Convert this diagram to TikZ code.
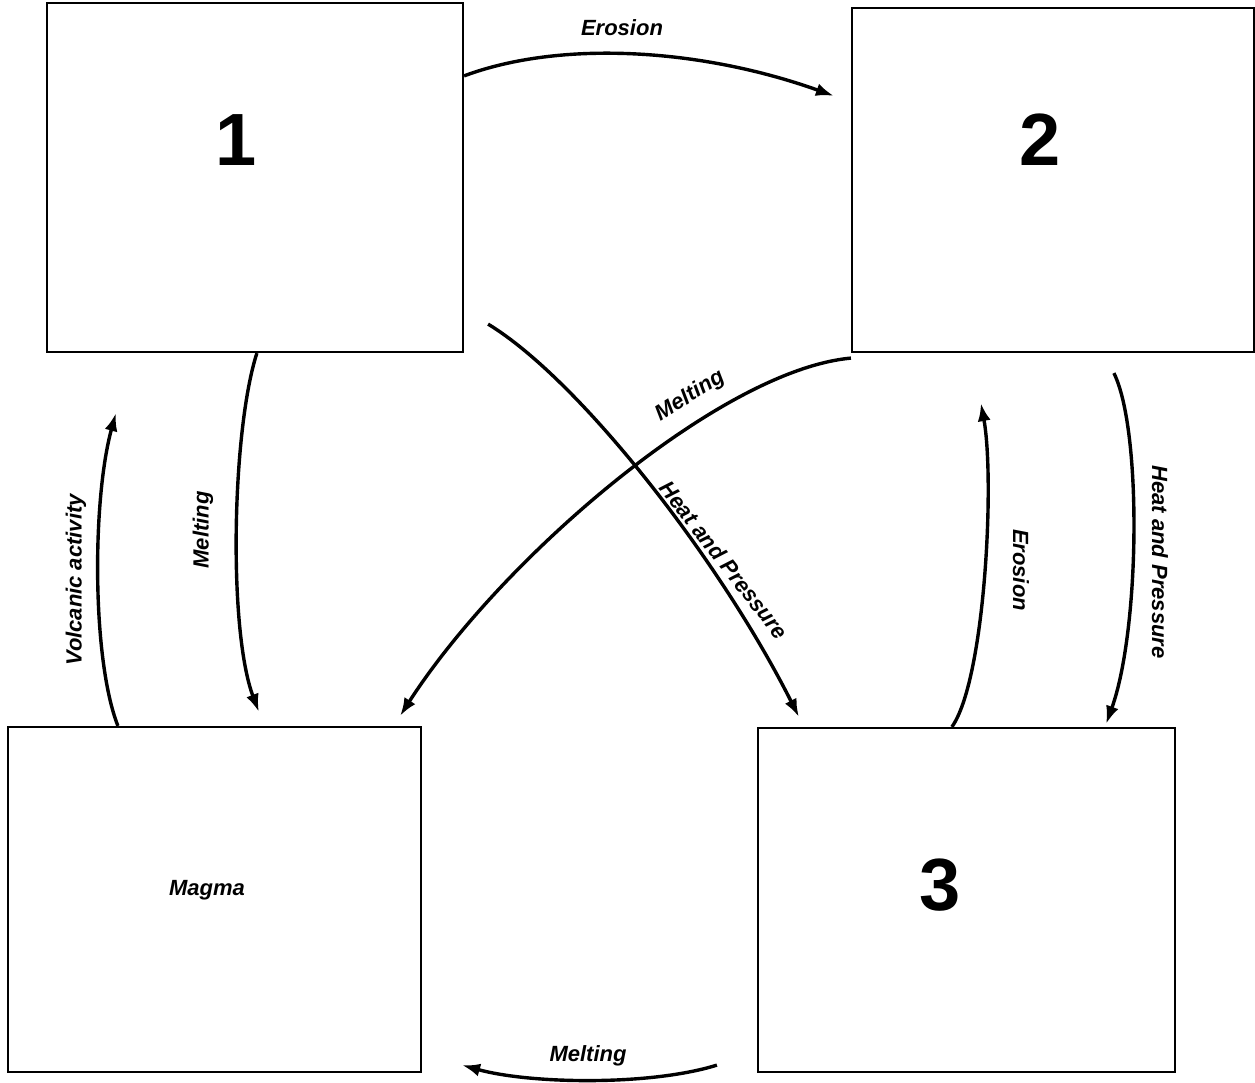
\documentclass[tikz,border=0pt]{standalone}
\usepackage{fontspec}
\setmainfont{Liberation Sans}
\usetikzlibrary{arrows.meta,positioning,calc}

\begin{document}
\begin{tikzpicture}[
  x=1pt,y=-1pt,font=\sffamily,
  stage/.style={draw=black,line width=2.2pt,minimum width=#1,inner sep=0pt},
  digit/.style={font=\bfseries\fontsize{74}{84}\selectfont},
  label/.style={font=\bfseries\itshape\fontsize{22}{26}\selectfont,inner sep=1pt},
  arrow/.style={-{Latex[length=18pt,width=13pt]},line width=3.4pt}
]
\useasboundingbox (0,0) rectangle (1255,1082);

% rock stages
\node[stage=416pt,minimum height=349pt] (one) at (255,177.5) {};
\node[stage=402pt,minimum height=344pt] (two) at (1053,180) {};
\node[stage=413pt,minimum height=345pt] (magma) at (214.5,899.5) {};
\node[stage=417pt,minimum height=344pt] (three) at (966.5,900) {};
\node[digit] (n1) at (236,140) {1};
\node[digit] (n2) at (1040,140) {2};
\node[digit] (n3) at (940,885) {3};
\node[label] (mg) at (207,890) {Magma};

% upper pair
\draw[arrow] ([yshift=-74pt]one.north east) .. controls (560,40) and (700,48) .. ([yshift=-89pt,xshift=-17pt]two.north west);
\node[label] (e1) at (622,28) {Erosion};

% left pair
\draw[arrow] ([xshift=211pt]one.south west) .. controls (232,430) and (228,630) .. ([xshift=252pt,yshift=14pt]magma.north west);
\node[label,rotate=90] (m1) at (203,530) {Melting};
\draw[arrow] ([xshift=111pt]magma.north west) .. controls (92,660) and (92,500) .. ([xshift=70pt,yshift=-60pt]one.south west);
\node[label,rotate=90] (va) at (76,580) {Volcanic activity};

% crossing pair
\draw[arrow] ([yshift=-5pt]two.south west) .. controls (720,370) and (500,560) .. ([xshift=-22pt,yshift=10pt]magma.north east);
\node[label,rotate=32] (m2) at (690,396) {Melting};
\draw[arrow] ([xshift=24pt,yshift=29pt]one.south east) .. controls (580,380) and (720,560) .. ([xshift=42pt,yshift=10pt]three.north west);
\node[label,rotate=-52] (hp1) at (724,560) {Heat and Pressure};

% right pair
\draw[arrow] ([xshift=195pt]three.north west) .. controls (985,680) and (995,480) .. ([xshift=130pt,yshift=-50pt]two.south west);
\node[label,rotate=-90] (e2) at (1021,570) {Erosion};
\draw[arrow] ([xshift=263pt,yshift=-20pt]two.south west) .. controls (1142,430) and (1140,630) .. ([xshift=-70pt,yshift=3pt]three.north east);
\node[label,rotate=-90] (hp2) at (1160,562) {Heat and Pressure};

% bottom
\draw[arrow] ([xshift=-40pt,yshift=8pt]three.south west) .. controls (650,1086) and (530,1084) .. ([xshift=40pt,yshift=8pt]magma.south east);
\node[label] (m3) at (588,1056) {Melting};
\end{tikzpicture}
\end{document}
